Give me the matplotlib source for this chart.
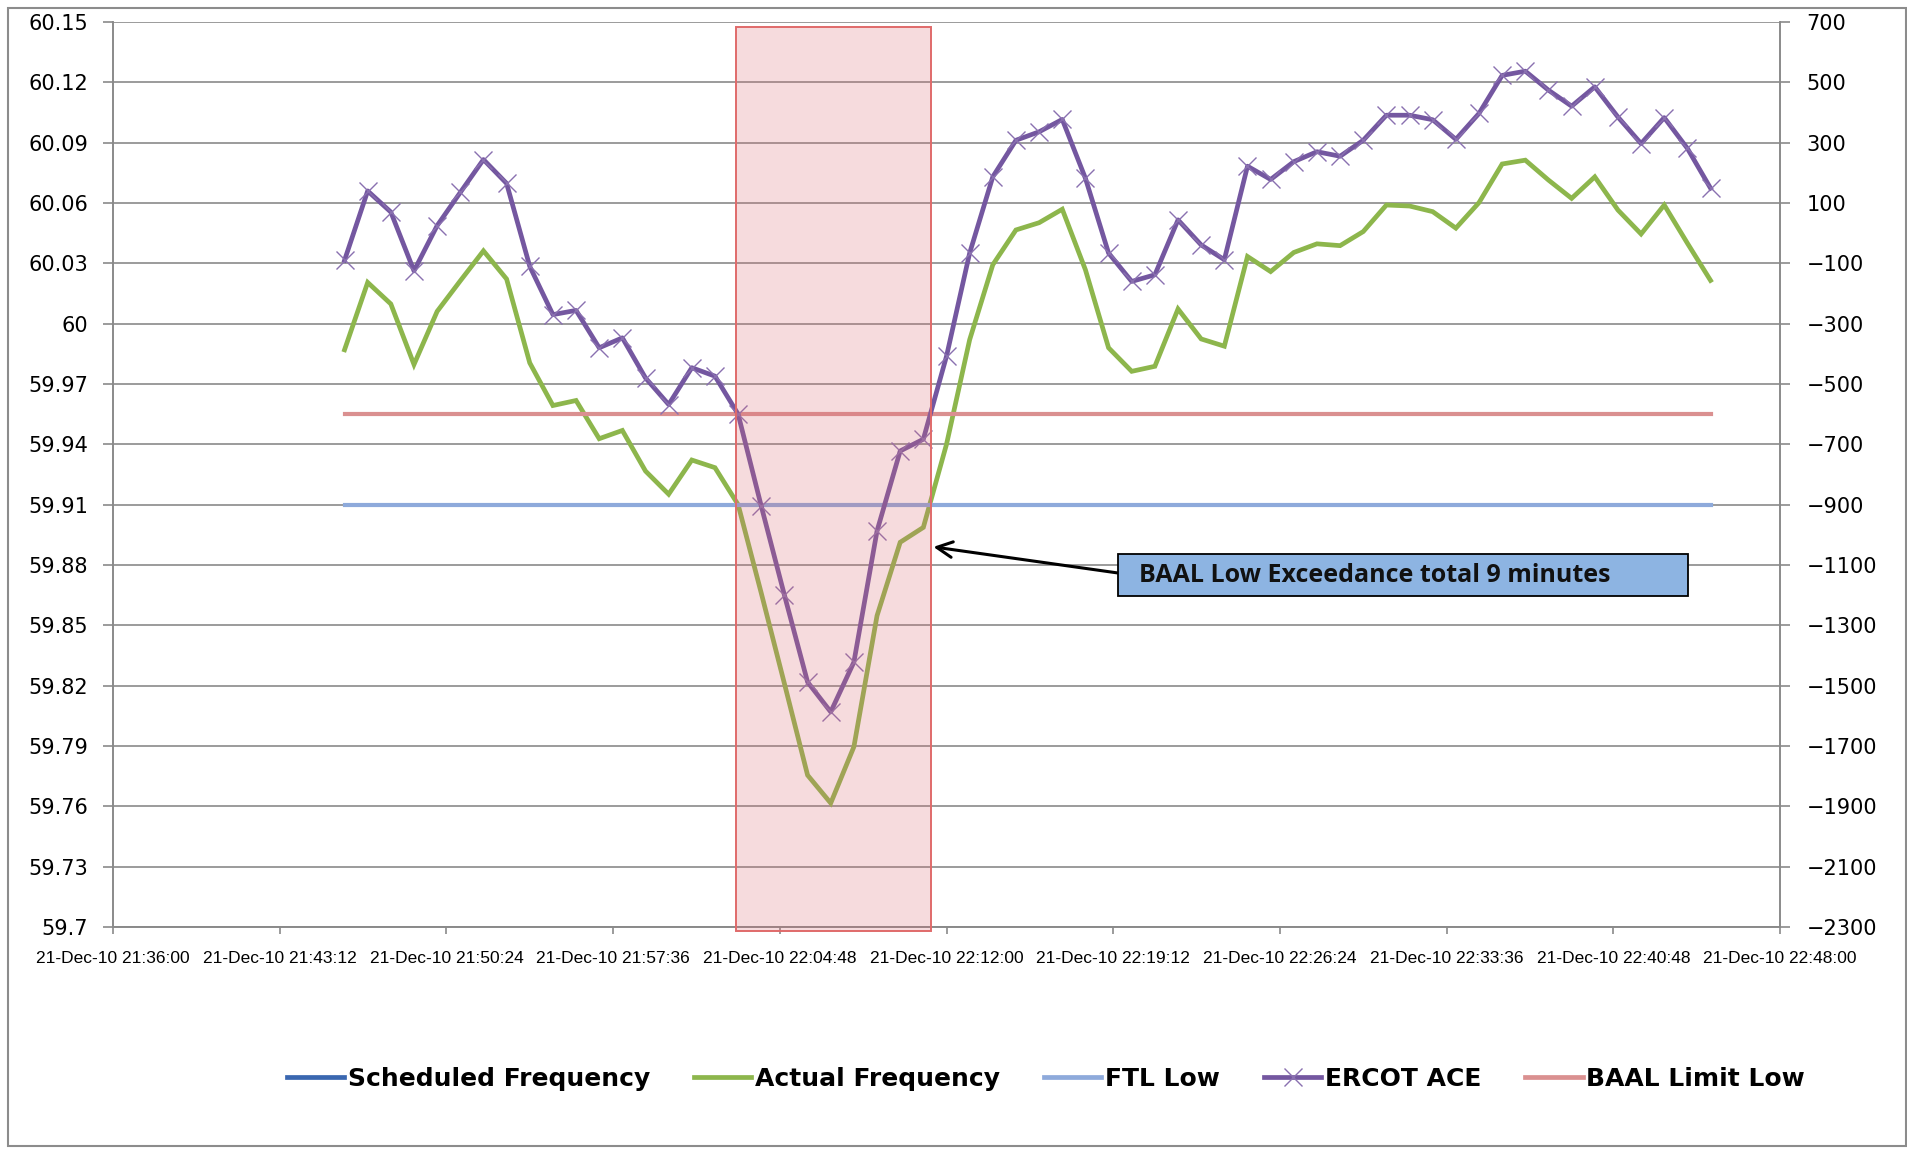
import pandas as pd
import matplotlib
matplotlib.use('Agg')
import matplotlib.pyplot as plt
import matplotlib.dates as mdates
from matplotlib.patches import Rectangle
from matplotlib.lines import Line2D

# one reading per minute, 21:46 to 22:45
times = pd.date_range('2010-12-21 21:46:00', periods=60, freq='min')

actual_freq = [59.987, 60.0205, 60.0098, 59.9797, 60.0061, 60.0213, 60.0362, 60.0222, 59.9805, 59.9593,
               59.9618, 59.9428, 59.9469, 59.9267, 59.9152, 59.9322, 59.9284, 59.910, 59.866, 59.821,
               59.7755, 59.7616, 59.7896, 59.8548, 59.8913, 59.8987, 59.940, 59.992, 60.0293, 60.0466,
               60.0502, 60.0569, 60.0268, 59.988, 59.9763, 59.9788, 60.0073, 59.9924, 59.9888, 60.0334,
               60.0259, 60.0354, 60.0397, 60.0388, 60.0458, 60.059, 60.0585, 60.0557, 60.0475, 60.0602,
               60.0794, 60.0813, 60.0714, 60.0623, 60.073, 60.0565, 60.0446, 60.059, 60.040, 60.0215]

ercot_ace = [-90, 140, 70, -125, 25, 135, 244, 165, -110, -270,
             -256, -380, -347, -480, -568, -446, -474, -600, -905, -1200,
             -1488, -1587, -1422, -987, -722, -683, -408, -66, 187, 308,
             336, 377, 182, -66, -160, -138, 44, -39, -88, 222,
             178, 237, 270, 255, 308, 391, 391, 376, 311, 397,
             523, 537, 474, 421, 485, 385, 297, 383, 281, 149]

ftl_low = 59.91
baal_limit_low = 59.955

exceed_start = pd.Timestamp('2010-12-21 22:02:55')
exceed_end = pd.Timestamp('2010-12-21 22:11:20')

x_ticks = pd.date_range('2010-12-21 21:36:00', '2010-12-21 22:48:00', freq='432s')
freq_ticks = [59.7, 59.73, 59.76, 59.79, 59.82, 59.85, 59.88, 59.91, 59.94, 59.97,
              60.0, 60.03, 60.06, 60.09, 60.12, 60.15]
freq_labels = ['59.7', '59.73', '59.76', '59.79', '59.82', '59.85', '59.88', '59.91', '59.94', '59.97',
               '60', '60.03', '60.06', '60.09', '60.12', '60.15']
ace_ticks = list(range(-2300, 701, 200))

series_names = ['Scheduled Frequency', 'Actual Frequency', 'FTL Low', 'ERCOT ACE', 'BAAL Limit Low']

GRID = '#8a8a8a'
PURPLE = '#7457a0'
GREEN = '#8db64c'
RED = '#da9090'
LBLUE = '#8eaadb'
DBLUE = '#3a67b0'

W, H = 1908, 1149
fig = plt.figure(figsize=(W / 100, H / 100), dpi=100)
ax = fig.add_axes([113 / W, 1 - 927 / H, (1780 - 113) / W, (927 - 22) / H])
ax2 = ax.twinx()

# frequencies on the left axis
ax.plot(times, actual_freq, color=GREEN, lw=3.4, solid_joinstyle='miter', zorder=3)
ax.plot([times[0], times[-1]], [ftl_low, ftl_low], color=LBLUE, lw=3, zorder=4)
ax.plot([times[0], times[-1]], [baal_limit_low, baal_limit_low], color=RED, lw=3, zorder=4)

# ACE on the right axis
ax2.plot(times, ercot_ace, color=PURPLE, lw=3.4, marker='x', ms=13, mew=1.0,
         mec='#8a70b0', zorder=3)

ax.set_xlim(x_ticks[0], x_ticks[-1])
ax.set_ylim(59.7, 60.15)
ax2.set_ylim(-2300, 700)

ax.set_yticks(freq_ticks)
ax.set_yticklabels(freq_labels)
ax2.set_yticks(ace_ticks)
ax.set_xticks(x_ticks)
ax.xaxis.set_major_formatter(mdates.DateFormatter('%d-%b-%y %H:%M:%S'))

ax.grid(axis='y', color=GRID, lw=1.2)
ax.set_axisbelow(True)
for a in (ax, ax2):
    a.spines['top'].set_visible(False)
    for s in ('left', 'right', 'bottom'):
        a.spines[s].set_color(GRID)
        a.spines[s].set_linewidth(1.2)

ax.tick_params(axis='y', length=7, width=1.2, color=GRID, pad=11, labelsize=15)
ax2.tick_params(axis='y', length=7, width=1.2, color=GRID, pad=12, labelsize=15)
ax.tick_params(axis='x', length=5, width=1.2, color=GRID, pad=12)
for lbl in ax.get_xticklabels():
    lbl.set_family(['Liberation Sans Narrow', 'Liberation Sans', 'DejaVu Sans'])
    lbl.set_fontsize(12.5)

# shaded exceedance window, drawn over the lines
x0 = mdates.date2num(exceed_start)
x1 = mdates.date2num(exceed_end)
ax2.add_patch(Rectangle((x0, 59.698), x1 - x0, 60.1475 - 59.698, transform=ax.transData,
                        facecolor=(0.86, 0.42, 0.45, 0.24), edgecolor='#e06a6a', lw=1.4,
                        clip_on=False, zorder=10))

# annotation box with arrow
fig.add_artist(Rectangle((1118 / W, 1 - 596 / H), 570 / W, 42 / H, transform=fig.transFigure,
                         facecolor='#8db4e2', edgecolor='black', lw=1.3, zorder=20))
fig.text(1139 / W, 1 - 576 / H, 'BAAL Low Exceedance total 9 minutes', fontsize=18,
         fontweight='bold', family=['Open Sans', 'DejaVu Sans'], color='#111111',
         ha='left', va='center', zorder=21)
ax2.annotate('', xy=(mdates.date2num(pd.Timestamp('2010-12-21 22:11:26')), -1040),
             xycoords='data', xytext=(1118 / W, 1 - 573 / H), textcoords='figure fraction',
             arrowprops=dict(arrowstyle='->', color='black', lw=2.2, mutation_scale=28,
                             shrinkA=0, shrinkB=0), zorder=22)

# legend
handles = [Line2D([], [], color=DBLUE, lw=3.4),
           Line2D([], [], color=GREEN, lw=3.4),
           Line2D([], [], color=LBLUE, lw=3.4),
           Line2D([], [], color=PURPLE, lw=3.4, marker='x', ms=13, mew=1.0, mec='#8a70b0'),
           Line2D([], [], color=RED, lw=3.4)]
fig.legend(handles, series_names, loc='center', bbox_to_anchor=(1046 / W, 1 - 1079 / H),
           ncol=5, frameon=False, handlelength=2.3, handletextpad=0.15, columnspacing=1.75,
           prop={'weight': 'bold', 'size': 18})

# outer chart border
fig.add_artist(Rectangle((8 / W, 3 / H), (1906 - 8) / W, (1141 - 3) / H, transform=fig.transFigure,
                         fill=False, edgecolor='#8c8c8c', lw=1.5))

fig.savefig('out.png', dpi=100)
